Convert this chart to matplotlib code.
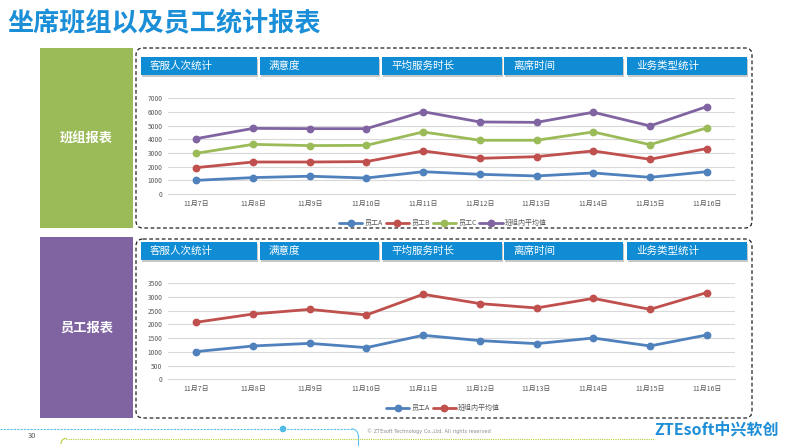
import matplotlib
matplotlib.use("Agg")
import matplotlib.pyplot as plt
from matplotlib.patches import FancyBboxPatch, Rectangle, Circle
import numpy as np

plt.rcParams['font.family'] = ['Noto Sans CJK SC', 'DejaVu Sans']

# ---------------- data ----------------
dates = ['11月7日', '11月8日', '11月9日', '11月10日', '11月11日',
         '11月12日', '11月13日', '11月14日', '11月15日', '11月16日']
team_a = [1000, 1200, 1300, 1170, 1630, 1440, 1320, 1540, 1220, 1630]
team_b = [1930, 2340, 2340, 2370, 3150, 2610, 2730, 3150, 2540, 3320]
team_c = [2980, 3630, 3540, 3560, 4540, 3930, 3930, 4540, 3610, 4830]
team_avg = [4050, 4800, 4780, 4780, 6020, 5270, 5240, 5980, 4980, 6390]
staff_a = [1010, 1215, 1310, 1155, 1605, 1410, 1300, 1505, 1215, 1615]
staff_avg = [2080, 2380, 2550, 2345, 3100, 2760, 2600, 2950, 2550, 3160]

team_labels = ['员工A', '员工B', '员工C', '班组内平均值']
staff_labels = ['员工A', '班组内平均值']
tabs = ['客服人次统计', '满意度', '平均服务时长', '离席时间', '业务类型统计']
title = '坐席班组以及员工统计报表'
block1 = '班组报表'
block2 = '员工报表'

BLUE = '#4F81BD'
RED = '#C0504D'
GREEN = '#9BBB59'
PURPLE = '#8064A2'
TAB = '#0F8CD4'
TITLE = '#1A8FD8'

W, H = 789, 446
fig = plt.figure(figsize=(W / 100, H / 100), dpi=100)

bg = fig.add_axes([0, 0, 1, 1], zorder=0)
bg.set_xlim(0, W)
bg.set_ylim(H, 0)
bg.axis('off')

# title
bg.text(7, 24, title, color=TITLE, fontsize=18.8, fontweight='bold',
        ha='left', va='center')

# side blocks
bg.add_patch(Rectangle((40, 48), 93, 180, color=GREEN, lw=0))
bg.text(86.5, 139, block1, color='white', fontsize=9.5, fontweight='bold',
        ha='center', va='center')
bg.add_patch(Rectangle((40, 237), 93, 181, color=PURPLE, lw=0))
bg.text(86.5, 328, block2, color='white', fontsize=9.5, fontweight='bold',
        ha='center', va='center')

# dashed boxes
for (y0, h) in [(48, 180), (239, 179)]:
    bg.add_patch(FancyBboxPatch((136, y0), 616, h,
                                boxstyle='round,pad=0,rounding_size=7',
                                fill=False, edgecolor='#222222', lw=0.9,
                                linestyle=(0, (3, 2))))

# tabs
tab_x = [(141, 257), (260, 379), (382, 502), (504, 623), (627, 747)]
for ty in [57, 242]:
    for (x0, x1), label in zip(tab_x, tabs):
        bg.add_patch(Rectangle((x0 + 1.5, ty + 1.5), x1 - x0, 18,
                               color='#C8C8C8', lw=0))
        bg.add_patch(Rectangle((x0, ty), x1 - x0, 18, color=TAB, lw=0))
        bg.text(x0 + 9, ty + 9, label, color='white', fontsize=7.6,
                ha='left', va='center')

# footer decorations
bg.plot([0, 352], [429, 429], color='#5BC3EA', lw=0.8, linestyle=(0, (2, 1)))
t = np.linspace(0, np.pi / 2, 20)
bg.plot(352 + 6 * np.sin(t), 429 + 6 * (1 - np.cos(t)), color='#5BC3EA', lw=0.8)
bg.plot([358, 358], [435, 446], color='#5BC3EA', lw=0.8)
bg.add_patch(Circle((283, 429), 2.6, color='#4FB9E8'))
bg.plot([66, 655], [438.5, 438.5], color='#B5CF3A', lw=0.8, linestyle=(0, (1, 1)))
bg.plot(66 - 5 * np.sin(t), 438.5 + 5 * (1 - np.cos(t)), color='#B5CF3A', lw=0.8)
bg.text(28, 436, '30', color='#595959', fontsize=5.5, ha='left', va='center')
bg.text(367, 431, '© ZTEsoft Technology Co.,Ltd. All rights reserved',
        color='#8C8C8C', fontsize=3.6, ha='left', va='center',
        family=['DejaVu Sans'])
bg.text(779, 429, 'ZTEsoft中兴软创', color='#1E8ED6', fontsize=11.5,
        fontweight='bold', ha='right', va='center')


def make_chart(rect, series, labels, colors, ymax, ystep, legend_y):
    ax = fig.add_axes(rect, zorder=2)
    ax.set_facecolor('none')
    x = np.arange(len(dates))
    for vals, lab, col in zip(series, labels, colors):
        ax.plot(x, vals, color=col, lw=2.0, marker='o', markersize=4.6,
                label=lab, solid_capstyle='round')
    ax.set_xlim(-0.5, len(dates) - 0.5)
    ax.set_ylim(0, ymax)
    ax.set_yticks(np.arange(0, ymax + 1, ystep))
    ax.set_xticks(x)
    ax.set_xticklabels(dates)
    ax.grid(axis='y', color='#D9D9D9', lw=0.8)
    ax.set_axisbelow(True)
    for s in ['top', 'right', 'left']:
        ax.spines[s].set_visible(False)
    ax.spines['bottom'].set_color('#D9D9D9')
    ax.spines['bottom'].set_linewidth(0.8)
    ax.tick_params(axis='y', length=0, labelsize=4.8, labelcolor='#595959', pad=4)
    ax.tick_params(axis='x', length=0, labelsize=5, labelcolor='#595959', pad=4)
    ax.legend(loc='center', bbox_to_anchor=(443 / W, 1 - legend_y / H),
              bbox_transform=fig.transFigure, ncol=len(labels), frameon=False,
              fontsize=5, handlelength=3.4, handletextpad=0.3,
              columnspacing=0.4, borderpad=0, labelcolor='#595959')
    return ax


make_chart([168 / W, 1 - 194 / H, 567 / W, 95.7 / H],
           [team_a, team_b, team_c, team_avg], team_labels,
           [BLUE, RED, GREEN, PURPLE], 7000, 1000, 223)
make_chart([168 / W, 1 - 379.3 / H, 567 / W, 96 / H],
           [staff_a, staff_avg], staff_labels,
           [BLUE, RED], 3500, 500, 408)

fig.savefig('out.png', dpi=100)
